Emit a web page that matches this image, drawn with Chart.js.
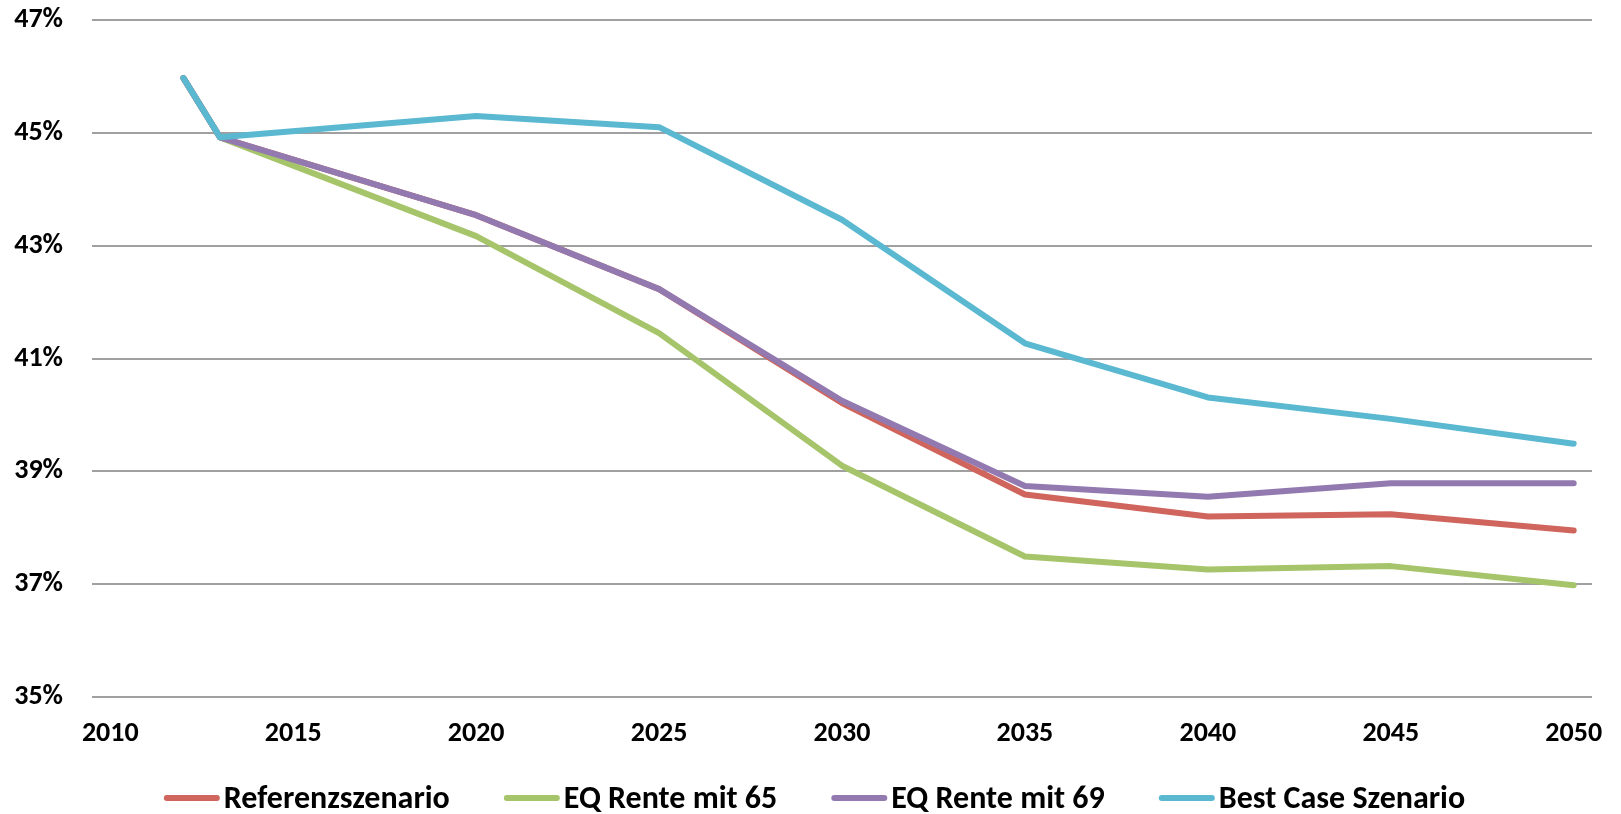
<!DOCTYPE html>
<html>
<head>
<meta charset="utf-8">
<title>Szenarien 2012–2050</title>
<script src="https://cdn.jsdelivr.net/npm/chart.js@4/dist/chart.umd.min.js"></script>
<style>
  html, body { margin: 0; padding: 0; background: #ffffff; }
  #wrap { width: 1621px; height: 814px; position: relative; }
</style>
</head>
<body>
<div id="wrap"><canvas id="chart" width="1621" height="814"></canvas></div>
<script>
// Years with values (the x axis is a continuous year scale)
const years = [2012, 2013, 2020, 2025, 2030, 2035, 2040, 2045, 2050];

// Series values in percent
const referenzszenario = [45.97, 44.92, 43.54, 42.23, 40.21, 38.59, 38.20, 38.24, 37.95];
const eqRente65        = [45.97, 44.92, 43.17, 41.45, 39.10, 37.49, 37.26, 37.32, 36.98];
const eqRente69        = [45.97, 44.92, 43.54, 42.23, 40.25, 38.74, 38.55, 38.79, 38.79];
const bestCase         = [45.97, 44.92, 45.30, 45.10, 43.46, 41.27, 40.31, 39.93, 39.49];

// Series names
const seriesNames = ['Referenzszenario', 'EQ Rente mit 65', 'EQ Rente mit 69', 'Best Case Szenario'];

// Axis tick labels
const yearTicks = [2010, 2015, 2020, 2025, 2030, 2035, 2040, 2045, 2050];
const percentTicks = [35, 37, 39, 41, 43, 45, 47];

const FONT_FAMILY = "Carlito, 'Liberation Sans Narrow', 'Arial Narrow', sans-serif";
const TICK_SIZE = 28;
const LEGEND_SIZE = 32;
const colors = ['#CF655D', '#A6C46A', '#927AB0', '#5AB8D1'];

const toPoints = vals => vals.map((v, i) => ({ x: years[i], y: v }));
const seriesValues = [referenzszenario, eqRente65, eqRente69, bestCase];

// Later series are painted over earlier ones (lower order = on top)
const datasets = seriesValues.map((vals, i) => ({
  label: seriesNames[i],
  data: toPoints(vals),
  order: seriesValues.length - i,
  borderColor: colors[i],
  backgroundColor: colors[i],
  borderWidth: 6,
  borderCapStyle: 'round',
  borderJoinStyle: 'round',
  pointRadius: 0,
  pointHoverRadius: 0,
  tension: 0,
  fill: false
}));

// Legend drawn as short line samples followed closely by the series name
const lineLegend = {
  id: 'lineLegend',
  afterDraw(chart) {
    const ctx = chart.ctx;
    ctx.save();
    ctx.font = `bold ${LEGEND_SIZE}px ${FONT_FAMILY}`;
    ctx.textBaseline = 'middle';
    ctx.textAlign = 'left';
    const sample = 56, gap = 4, itemGap = 54;
    const items = seriesNames.map((label, i) => ({
      label,
      color: colors[i],
      w: ctx.measureText(label).width
    }));
    const total = items.reduce((s, it) => s + sample + gap + it.w, 0) + itemGap * (items.length - 1);
    let x = (chart.width - total) / 2 + 4;
    const y = 800;
    items.forEach(it => {
      ctx.strokeStyle = it.color;
      ctx.lineWidth = 6;
      ctx.lineCap = 'round';
      ctx.beginPath();
      ctx.moveTo(x + 3, y - 2);
      ctx.lineTo(x + sample - 3, y - 2);
      ctx.stroke();
      ctx.fillStyle = '#000000';
      ctx.fillText(it.label, x + sample + gap, y);
      x += sample + gap + it.w + itemGap;
    });
    ctx.restore();
  }
};

new Chart(document.getElementById('chart'), {
  type: 'line',
  data: { datasets },
  plugins: [lineLegend],
  options: {
    responsive: false,
    animation: false,
    events: [],
    layout: { padding: { top: 20, right: 29, bottom: 53, left: 0 } },
    plugins: {
      legend: { display: false },
      tooltip: { enabled: false },
      title: { display: false }
    },
    scales: {
      x: {
        type: 'linear',
        min: 2009.5,
        max: 2050.5,
        afterBuildTicks: scale => { scale.ticks = yearTicks.map(v => ({ value: v })); },
        afterFit: scale => {
          scale.height = 64;
          scale.paddingLeft = 0;
          scale.paddingRight = 0;
        },
        grid: { display: false, drawTicks: false },
        border: { display: false },
        ticks: {
          padding: 20,
          maxRotation: 0,
          autoSkip: false,
          color: '#000000',
          font: { family: FONT_FAMILY, size: TICK_SIZE, weight: 'bold' },
          callback: v => String(v)
        }
      },
      y: {
        min: 35,
        max: 47,
        afterBuildTicks: scale => { scale.ticks = percentTicks.map(v => ({ value: v })); },
        afterFit: scale => {
          scale.width = 92;
          scale.paddingTop = 0;
          scale.paddingBottom = 0;
        },
        grid: { color: '#A0A0A0', lineWidth: 2, drawTicks: false },
        border: { display: false },
        ticks: {
          padding: 29,
          color: '#000000',
          font: { family: FONT_FAMILY, size: TICK_SIZE, weight: 'bold' },
          callback: v => v + '%'
        }
      }
    }
  }
});
</script>
</body>
</html>
